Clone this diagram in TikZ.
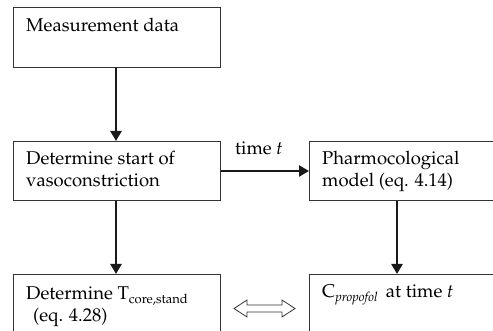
\documentclass[tikz,border=0pt]{standalone}
\usepackage[T1]{fontenc}
\usepackage{mathpazo}
\usetikzlibrary{arrows.meta,calc}
\begin{document}
\begin{tikzpicture}[x=1pt,y=-1pt,
  box/.style={draw=black!80, line width=1pt, fill=white, rectangle, inner sep=0pt},
  txt/.style={anchor=base west, inner sep=0pt, align=left, font=\fontsize{18.5}{22}\selectfont},
  flow/.style={line width=2.6pt, black!90, -{Triangle[length=10pt,width=11pt]}}]
\useasboundingbox (0,0) rectangle (493,331);
\clip (0,0) rectangle (493,331);
\node[box, minimum width=207pt, minimum height=60pt, anchor=north west] (b1) at (13,7) {};
\node[box, minimum width=207pt, minimum height=59pt, anchor=north west] (b2) at (13,141) {};
\node[box, minimum width=200pt, minimum height=59pt, anchor=north west] (b3) at (309,141) {};
\node[box, minimum width=207pt, minimum height=70pt, anchor=north west] (b4) at (13,274) {};
\node[box, minimum width=200pt, minimum height=70pt, anchor=north west] (b5) at (309,274) {};
\node[txt] (t1) at (26,32) {Measurement data};
\node[txt] (t2) at (26,187) {Determine start of\\vasoconstriction};
\node[txt] (t3) at (322,187) {Pharmocological\\model (eq. 4.14)};
\node[txt] (t4) at (26,322) {Determine T\textsubscript{\fontsize{13}{13}\selectfont core,stand}\\\hspace*{7pt}(eq. 4.28)};
\node[txt] (t5) at (322,298) {C\textsubscript{\fontsize{13}{13}\selectfont\itshape propofol}\, at time \textit{t}};
\node[txt] (tt) at (235,155) {time \textit{t}};
\coordinate (h1) at (116,67);
\draw[flow] (b1.south -| h1) -- (b2.north -| h1);
\draw[flow] (b2.south -| h1) -- (b4.north -| h1);
\coordinate (h2) at (397,171);
\draw[flow] (b2.east |- h2) -- (b3.west |- h2);
\draw[flow] (b3.south -| h2) -- (b5.north -| h2);
\coordinate (da) at (234,308.5);
\coordinate (db) at (295,308.5);
\draw[line width=0.8pt, draw=black!80, fill=white]
  (da) -- ++(13,-8.5) -- ++(0,5) -- ($(db)+(-13,-3.5)$) -- ++(0,-5) -- (db) -- ++(-13,8.5) -- ++(0,-5) -- ($(da)+(13,3.5)$) -- ++(0,5) -- cycle;
\end{tikzpicture}
\end{document}
